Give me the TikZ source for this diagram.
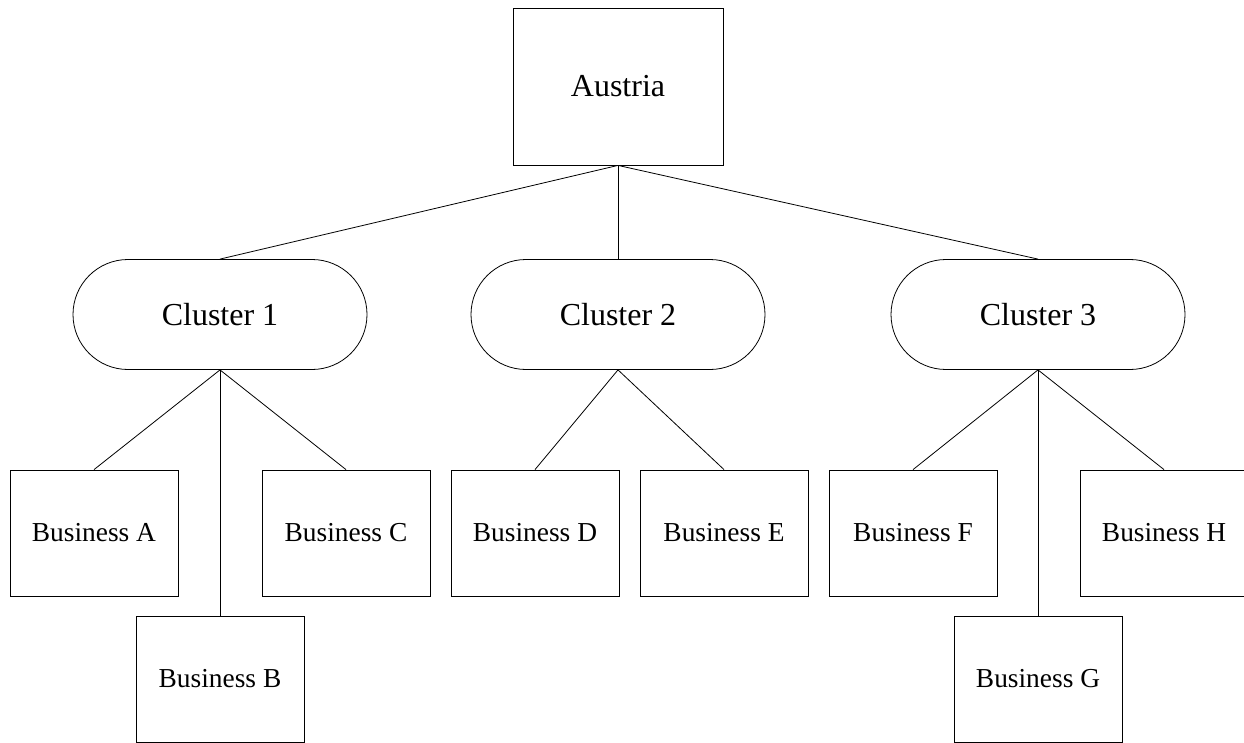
\documentclass[tikz,border=0pt]{standalone}
\usepackage{fontspec}
\setmainfont{Liberation Serif}
\usetikzlibrary{shapes.misc}
\begin{document}
\begin{tikzpicture}[x=1pt,y=-1pt,line width=0.8pt,
  topbox/.style={draw, rectangle, inner sep=0pt, minimum width=210pt, minimum height=157pt, font=\fontsize{32}{36}\selectfont},
  clusterbox/.style={draw, rounded rectangle, inner sep=0pt, minimum width=294pt, minimum height=110pt, font=\fontsize{32}{36}\selectfont},
  bizbox/.style={draw, rectangle, inner sep=0pt, minimum width=168pt, minimum height=126pt, font=\fontsize{27.4}{30}\selectfont},
  link/.style={draw, line width=0.8pt}]
\useasboundingbox (0,0) rectangle (1244,743);
\clip (0,0) rectangle (1244,743);
\node[topbox] (at) at (618,86.5) {Austria};
\node[clusterbox] (c1) at (220,314.5) {Cluster 1};
\node[clusterbox] (c2) at (618,314.5) {Cluster 2};
\node[clusterbox] (c3) at (1038,314.5) {Cluster 3};
\node[bizbox] (ba) at (94,533) {Business A};
\node[bizbox] (bb) at (220,679) {Business B};
\node[bizbox] (bc) at (346,533) {Business C};
\node[bizbox] (bd) at (535,533) {Business D};
\node[bizbox] (be) at (724,533) {Business E};
\node[bizbox] (bf) at (913,533) {Business F};
\node[bizbox] (bg) at (1038,679) {Business G};
\node[bizbox] (bh) at (1164,533) {Business H};
\draw[link] (at.south) -- (c1.north);
\draw[link] (at.south) -- (c2.north);
\draw[link] (at.south) -- (c3.north);
\draw[link] (c1.south) -- (ba.north);
\draw[link] (c1.south) -- (bb.north);
\draw[link] (c1.south) -- (bc.north);
\draw[link] (c2.south) -- (bd.north);
\draw[link] (c2.south) -- (be.north);
\draw[link] (c3.south) -- (bf.north);
\draw[link] (c3.south) -- (bg.north);
\draw[link] (c3.south) -- (bh.north);
\end{tikzpicture}
\end{document}
